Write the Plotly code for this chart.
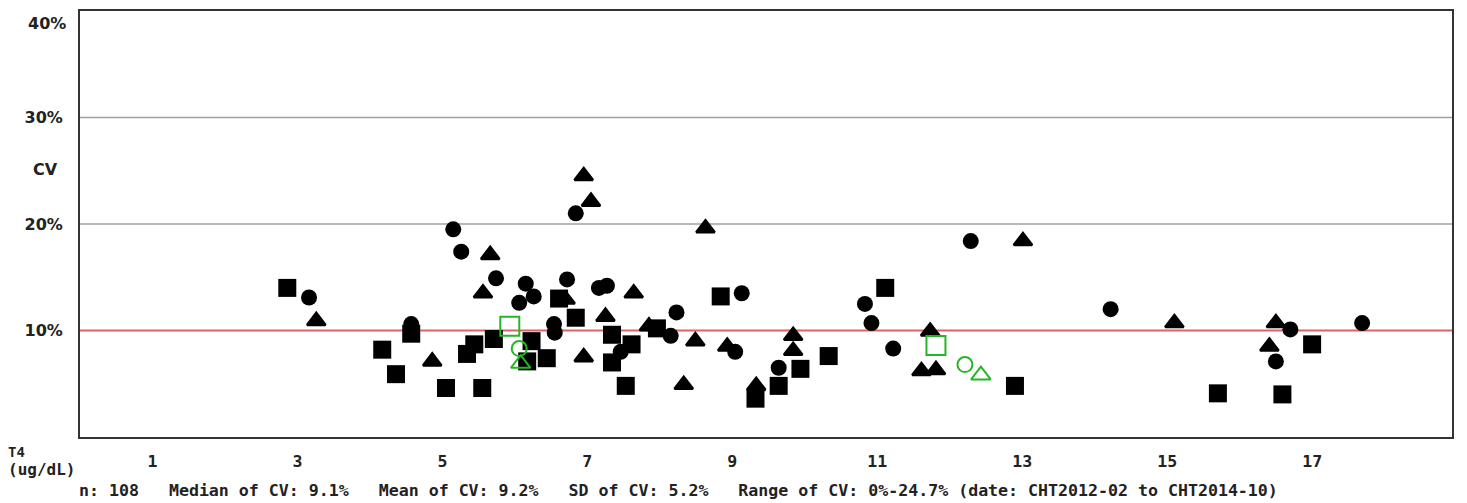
import plotly.graph_objects as go

# ---- data ----
sq_x = [2.86, 4.17, 4.36, 4.57, 5.05, 5.34, 5.44, 5.55, 5.71, 6.23, 6.17, 6.44, 6.61, 6.84,
        7.34, 7.34, 7.61, 7.53, 7.96, 8.84, 9.32, 9.64, 9.94, 10.33, 11.11, 12.90, 15.70, 16.59, 17.00]
sq_y = [14.0, 8.2, 5.9, 9.7, 4.6, 7.8, 8.7, 4.6, 9.2, 9.0, 7.1, 7.4, 13.0, 11.2,
        9.6, 7.0, 8.7, 4.8, 10.2, 13.2, 3.6, 4.8, 6.4, 7.6, 14.0, 4.8, 4.1, 4.0, 8.7]

ci_x = [3.16, 4.57, 5.15, 5.26, 5.74, 6.06, 6.15, 6.26, 6.54, 6.55, 6.72, 6.84, 7.16, 7.27,
        7.46, 8.15, 8.23, 9.13, 9.04, 9.64, 10.83, 10.92, 11.22, 12.29, 14.22, 16.50, 16.70, 17.69]
ci_y = [13.1, 10.6, 19.5, 17.4, 14.9, 12.6, 14.4, 13.2, 10.6, 9.8, 14.8, 21.0, 14.0, 14.2,
        8.0, 9.5, 11.7, 13.5, 8.0, 6.5, 12.5, 10.7, 8.3, 18.4, 12.0, 7.1, 10.1, 10.7]

tr_x = [3.26, 4.86, 5.66, 5.56, 6.70, 6.95, 7.05, 6.95, 7.25, 7.64, 7.85, 8.49, 8.33, 8.63,
        8.93, 9.33, 9.84, 9.84, 11.73, 11.61, 11.81, 13.01, 15.10, 16.50, 16.41]
tr_y = [10.9, 7.1, 17.1, 13.5, 12.9, 24.5, 22.1, 7.5, 11.3, 13.5, 10.4, 9.0, 4.9, 19.6,
        8.5, 4.8, 9.5, 8.1, 9.9, 6.2, 6.3, 18.4, 10.7, 10.7, 8.5]

ref_sq_x = [5.93, 11.81]
ref_sq_y = [10.4, 8.6]
ref_ci_x = [6.06, 12.21]
ref_ci_y = [8.3, 6.8]
ref_tr_x = [6.08, 12.43]
ref_tr_y = [6.9, 5.8]

x_ticks = [1, 3, 5, 7, 9, 11, 13, 15, 17]
y_ticks = [10, 20, 30]
y_tick_text = ["10%", "20%", "30%"]
grid_levels = [20, 30]
target_cv = 10
stats_text = ("n: 108\u00a0\u00a0\u00a0Median of CV: 9.1%\u00a0\u00a0\u00a0Mean of CV: 9.2%"
              "\u00a0\u00a0\u00a0SD of CV: 5.2%\u00a0\u00a0\u00a0Range of CV: 0%-24.7% "
              "(date: CHT2012-02 to CHT2014-10)")

BLACK = "#000000"
GREEN = "#26B526"
MONO = "DejaVu Sans Mono"
SANS = "DejaVu Sans"
TXT = "#222222"

fig = go.Figure()
fig.add_trace(go.Scatter(x=sq_x, y=sq_y, mode="markers",
                         marker=dict(symbol="square", size=18, color=BLACK), hoverinfo="skip"))
fig.add_trace(go.Scatter(x=ci_x, y=ci_y, mode="markers",
                         marker=dict(symbol="circle", size=16, color=BLACK), hoverinfo="skip"))
fig.add_trace(go.Scatter(x=tr_x, y=tr_y, mode="markers",
                         marker=dict(symbol="triangle-up", size=16, color=BLACK,
                                     line=dict(color=BLACK, width=2.5)), hoverinfo="skip"))
fig.add_trace(go.Scatter(x=ref_sq_x, y=ref_sq_y, mode="markers",
                         marker=dict(symbol="square-open", size=19, color=GREEN, line=dict(width=2)),
                         hoverinfo="skip"))
fig.add_trace(go.Scatter(x=ref_ci_x, y=ref_ci_y, mode="markers",
                         marker=dict(symbol="circle-open", size=15, color=GREEN, line=dict(width=2)),
                         hoverinfo="skip"))
fig.add_trace(go.Scatter(x=ref_tr_x, y=ref_tr_y, mode="markers",
                         marker=dict(symbol="triangle-up-open", size=17, color=GREEN, line=dict(width=2)),
                         hoverinfo="skip"))

shapes = []
for g in grid_levels:
    shapes.append(dict(type="line", xref="paper", x0=0, x1=1, yref="y", y0=g, y1=g,
                       line=dict(color="#A0A0A0", width=1.5), layer="below"))
shapes.append(dict(type="line", xref="paper", x0=0, x1=1, yref="y", y0=target_cv, y1=target_cv,
                   line=dict(color="#E06262", width=2), layer="below"))

annotations = [
    dict(text="40%", xref="paper", x=0, xanchor="right", xshift=-12, yref="y", y=38.8,
         yanchor="middle", showarrow=False, font=dict(family=SANS, size=16, color=TXT, weight="bold")),
    dict(text="CV", xref="paper", x=0, xanchor="center", xshift=-35, yref="y", y=25.1,
         yanchor="middle", showarrow=False, font=dict(family=SANS, size=16, color=TXT, weight="bold")),
    dict(text="T4", xref="paper", x=0, xanchor="left", xshift=-74, yref="paper", y=0,
         yanchor="bottom", yshift=-25, showarrow=False,
         font=dict(family=MONO, size=14, color=TXT, weight="bold")),
    dict(text="(ug/dL)", xref="paper", x=0, xanchor="left", xshift=-74, yref="paper", y=0,
         yanchor="top", yshift=-21, showarrow=False,
         font=dict(family=MONO, size=16, color=TXT, weight="bold")),
    dict(text=stats_text, xref="paper", x=0, xanchor="left", xshift=-3, yref="paper", y=0,
         yanchor="middle", yshift=-53, showarrow=False,
         font=dict(family=MONO, size=16.6, color=TXT, weight="bold")),
]

# page has an 8px body margin: figure origin sits at (8, 8) in the window
fig.update_layout(
    width=1459, height=495,
    margin=dict(l=72, r=15, t=1, b=66),
    paper_bgcolor="white", plot_bgcolor="white",
    showlegend=False,
    shapes=shapes, annotations=annotations,
)
fig.update_xaxes(range=[0, 18.93], tickmode="array", tickvals=x_ticks,
                 ticktext=[str(v) for v in x_ticks], showgrid=False, zeroline=False,
                 showline=True, mirror=True, linecolor="#333333", linewidth=2, ticks="",
                 ticklabelstandoff=8,
                 tickfont=dict(family=MONO, size=16.6, color=TXT, weight="bold"))
fig.update_yaxes(range=[0, 40], tickmode="array", tickvals=y_ticks, ticktext=y_tick_text,
                 showgrid=False, zeroline=False, showline=True, mirror=True,
                 linecolor="#333333", linewidth=2, ticks="", ticklabelstandoff=12,
                 tickfont=dict(family=SANS, size=16, color=TXT, weight="bold"))

fig.write_html("out.html")
